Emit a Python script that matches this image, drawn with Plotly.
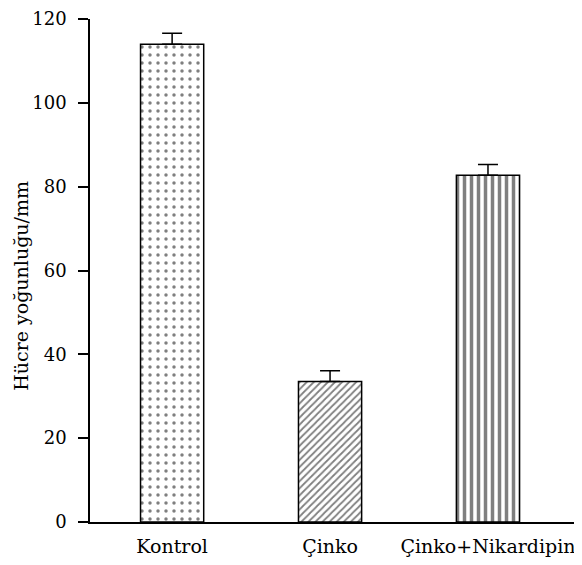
import plotly.graph_objects as go

categories = ["Kontrol", "Çinko", "Çinko+Nikardipin"]
values = [114.0, 33.5, 82.7]
errors = [2.6, 2.6, 2.6]
patterns = [".", "/", "|"]
y_ticks = [0, 20, 40, 60, 80, 100, 120]
y_title = "Hücre yoğunluğu/mm"

fig = go.Figure()
fig.add_trace(go.Bar(
    x=categories,
    y=values,
    width=0.4,
    marker=dict(
        color="white",
        line=dict(color="black", width=1.5),
        pattern=dict(shape=patterns, fgcolor="black", bgcolor="white",
                     fillmode="overlay", size=[8, 5, 7], solidity=[0.15, 0.35, 0.5]),
    ),
    error_y=dict(type="data", array=errors, arrayminus=[0, 0, 0], symmetric=False,
                 color="black", thickness=1.5, width=10),
    showlegend=False,
))

font = "DejaVu Serif, Liberation Serif, serif"
fig.update_layout(
    width=582, height=565,
    margin=dict(l=82, r=12, t=11, b=51),
    paper_bgcolor="white", plot_bgcolor="white",
    font=dict(family=font, size=16, color="black"),
    xaxis=dict(range=[-0.52, 2.57], showline=True, linecolor="black", linewidth=1.5,
               ticks="", showgrid=False, zeroline=False, tickfont=dict(size=19),
               automargin=False, ticklabelstandoff=6),
    yaxis=dict(range=[0, 120], tickvals=y_ticks, showline=True, linecolor="black",
               linewidth=1.5, ticks="outside", ticklen=10, tickwidth=1.5, tickcolor="black",
               showgrid=False, zeroline=False, ticklabelstandoff=8, automargin=False,
               ticklabeloverflow="allow", tickfont=dict(size=18)),
    bargap=0.6,
    annotations=[dict(text=y_title, xref="paper", yref="paper", x=-0.142, y=0.469,
                      textangle=-90, showarrow=False, font=dict(size=19),
                      xanchor="center", yanchor="middle")],
)
fig.write_html("out.html")
